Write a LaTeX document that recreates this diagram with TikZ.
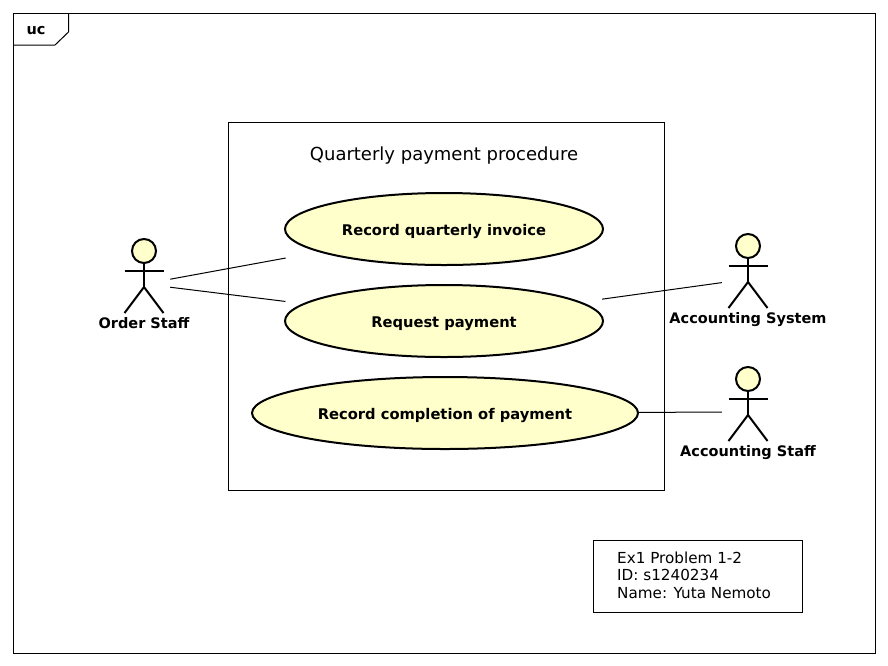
\documentclass[tikz,border=0pt]{standalone}
\usepackage{fontspec}
\setmainfont{DejaVu Sans}
\usetikzlibrary{positioning,shapes.geometric}

\definecolor{caseyellow}{RGB}{255,255,204}
\tikzset{
    frameline/.style={draw=black, line width=1pt},
    usecase/.style={ellipse, draw=black, line width=2pt, fill=caseyellow, font=\fontsize{14.7}{17}\bfseries,
        minimum height=72pt, inner sep=0pt, text height=12pt, text depth=0pt},
    actorbox/.style={rectangle, minimum width=52pt, minimum height=70pt, inner sep=0pt},
    actorname/.style={font=\fontsize{14.5}{17}\bfseries, inner sep=0pt},
    assoc/.style={draw=black, line width=1pt},
    stickman/.pic={
        \draw[line width=2pt, fill=caseyellow] (0,-33) circle (12pt);
        \draw[line width=2pt] (0,-21) -- (0,3);
        \draw[line width=2pt] (-19.5,-13) -- (19.5,-13);
        \draw[line width=2pt] (-19.5,29) -- (0,3) -- (19.5,29);
    }
}

\begin{document}
\begin{tikzpicture}[x=1pt,y=-1pt]
    \useasboundingbox (0,0) rectangle (888,665);

    % outer frame and its tab
    \draw[frameline] (13.5,13.5) rectangle (875,653);
    \draw[frameline] (68.5,13.5) -- (68.5,32) -- (55,45) -- (13.5,45);
    \node[font=\fontsize{14.5}{17}\bfseries, inner sep=0pt] (uctag) at (36,31) {uc};

    % system boundary
    \draw[frameline] (228.5,122) rectangle (664.5,490.5);
    \node[font=\fontsize{18}{21}\selectfont, inner sep=0pt] (systitle) at (444,155.5) {Quarterly payment procedure};

    % use cases
    \node[usecase, minimum width=318pt] (invoice) at (444,229) {Record quarterly invoice};
    \node[usecase, minimum width=318pt] (request) at (444,321) {Request payment};
    \node[usecase, minimum width=386pt] (complete) at (445,413) {Record completion of payment};

    % actors
    \node[actorbox] (orderstaff) at (144,284) {};
    \node[actorbox] (accsystem) at (748,279) {};
    \node[actorbox] (accstaff) at (748,412) {};
    \pic at (orderstaff) {stickman};
    \pic at (accsystem) {stickman};
    \pic at (accstaff) {stickman};
    \node[actorname, below=33pt of orderstaff.center] (orderlabel) {Order Staff};
    \node[actorname, below=33pt of accsystem.center] (systemlabel) {Accounting System};
    \node[actorname, below=33pt of accstaff.center] (stafflabel) {Accounting Staff};

    % associations
    \draw[assoc, shorten >=33.5pt] (orderstaff) -- (invoice);
    \draw[assoc, shorten >=17.5pt] (orderstaff) -- (request);
    \draw[assoc, shorten <=21pt] (request) -- (accsystem);
    \draw[assoc] (complete) -- (accstaff);

    % note
    \node[frameline, anchor=north west, minimum width=209pt, minimum height=72pt, inner sep=0pt, outer sep=0pt] (note) at (593.5,540.5) {};
    \node[anchor=west, align=left, inner sep=0pt, font=\fontsize{15.2}{17.5}\selectfont] (notetext) at (617,575)
        {Ex1 Problem 1-2\\ID: s1240234\\Name: Yuta Nemoto};
\end{tikzpicture}
\end{document}
